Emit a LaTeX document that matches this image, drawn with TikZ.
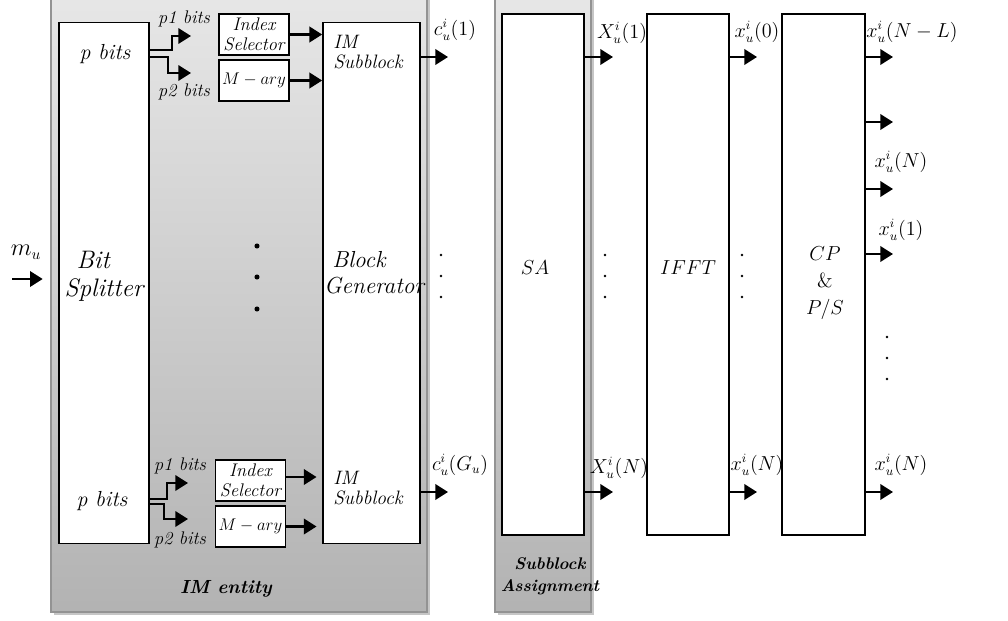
\documentclass[tikz,border=0pt]{standalone}
\usepackage{amsmath}
\usetikzlibrary{arrows.meta, positioning}

\begin{document}
\begin{tikzpicture}[x=0.025cm, y=-0.025cm,
    bigbox/.style = {rectangle, draw=black, fill=white, line width=1.2pt, minimum width=2.05cm, minimum height=13.025cm, inner sep=0pt},
    smallbox/.style = {rectangle, draw=black, fill=white, line width=0.9pt, minimum width=1.75cm, minimum height=1.025cm, inner sep=0pt, align=center, font=\fontsize{13}{14.5}\selectfont\itshape},
    entity/.style = {draw=gray!85, line width=1pt, top color=gray!18, bottom color=gray!60},
    arr/.style = {line width=1.5pt, -{Triangle[length=9pt, width=11pt]}},
    fork/.style = {line width=1.4pt, -{Triangle[length=9pt, width=11pt]}},
    bigtxt/.style = {font=\fontsize{18}{20}\selectfont\itshape, align=left, inner sep=0pt},
    midtxt/.style = {font=\fontsize{15.5}{17}\selectfont\itshape, align=left, inner sep=0pt},
    smalltxt/.style = {font=\fontsize{13}{15}\selectfont\itshape, inner sep=0pt},
    lbl/.style = {font=\fontsize{13.5}{15}\selectfont, inner sep=0pt},
    title/.style = {font=\fontsize{12}{15.5}\selectfont\bfseries\itshape, align=center, inner sep=0pt}
]
\clip (0,0) rectangle (1008,620);

% Grey entities
\fill[gray!45] (54,-20) rectangle (430,615);
\path[entity] (51,-20) rectangle (427,612);
\fill[gray!45] (498,-20) rectangle (594,615);
\path[entity] (495,-20) rectangle (591,612);

% Blocks
\node (split) [bigbox, minimum width=2.25cm] at (104,283) {};
\node (gen) [bigbox, minimum width=2.425cm] at (371.5,283) {};
\node (selA) [smallbox] at (254,34.5) {Index\\Selector};
\node (maryA) [smallbox, font=\fontsize{12.5}{16}\selectfont] at (254,80.5) {$M-ary$};
\node (selB) [smallbox] at (250.5,480.5) {Index\\Selector};
\node (maryB) [smallbox, font=\fontsize{12.5}{16}\selectfont] at (250.5,526.5) {$M-ary$};
\node (sa) [bigbox] at (543,274.5) {};
\node (ifft) [bigbox] at (688,274.5) {};
\node (cpps) [bigbox, minimum width=2.075cm] at (823.5,274.5) {};

% Block texts
\node (bittxt) [bigtxt] at (104,276) {\hspace{8.5pt}Bit\\Splitter};
\node (gentxt) [bigtxt, font=\fontsize{16.5}{18.4}\selectfont\itshape] at (374,273) {\hspace{6pt}Block\\Generator};
\node (satxt) [bigtxt, font=\fontsize{15}{19}\selectfont] at (535,268) {$SA$};
\node (iffttxt) [bigtxt, font=\fontsize{14}{19}\selectfont] at (688,268) {$IFFT$};
\node (cptxt) [bigtxt, font=\fontsize{14.5}{19}\selectfont, align=center] at (825,283) {$CP$\\\&\\$P/S$};
\node (pA) [midtxt] at (105,54) {p bits};
\node (pB) [midtxt] at (102,501) {p bits};
\node (imA) [midtxt, anchor=west, font=\fontsize{13.8}{14}\selectfont\itshape] at (333,52) {IM\\Subblock};
\node (imB) [midtxt, anchor=west, font=\fontsize{13.8}{14}\selectfont\itshape] at (333,488) {IM\\Subblock};
\node (p1A) [smalltxt] at (184,19) {p1 bits};
\node (p2A) [smalltxt] at (184,92) {p2 bits};
\node (p1B) [smalltxt] at (180,466) {p1 bits};
\node (p2B) [smalltxt] at (180,540) {p2 bits};
\node (enttxt) [title, font=\fontsize{13.5}{15}\selectfont\bfseries\itshape] at (226,589) {IM entity};
\node (asgtxt) [title] at (550,576) {Subblock\\Assignment};

% Input
\coordinate (in) at (12,279);
\node (mu) [lbl, font=\fontsize{16}{18}\selectfont] at (26,252) {$m_u$};
\draw[arr, shorten >=11pt] (in) -- (in -| split.west);

% Splitting into p1 / p2 bits
\coordinate (f1A) at (191,36);
\coordinate (f2A) at (191,73);
\coordinate (f1B) at (188,483);
\coordinate (f2B) at (188,519);
\draw[fork] (split.east |- 0,50) -- (172,50) |- (f1A);
\draw[fork] (split.east |- 0,57) -- (168,57) |- (f2A);
\draw[fork] (split.east |- 0,499) -- (167,499) |- (f1B);
\draw[fork] (split.east |- 0,504) -- (164,504) |- (f2B);

% Into the block generator
\draw[arr] (selA.east) -- (selA.east -| gen.west);
\draw[arr] (maryA.east) -- (maryA.east -| gen.west);
\draw[arr, shorten >=4pt] (selB.east |- 0,477) -- (gen.west |- 0,477);
\draw[arr, shorten >=4pt] (maryB.east) -- (maryB.east -| gen.west);

% Outputs
\coordinate (g1) at (448,57);
\coordinate (g2) at (448,492);
\coordinate (s1) at (613,57);
\coordinate (s2) at (613,492);
\coordinate (i1) at (757,57);
\coordinate (i2) at (757,492);
\coordinate (c1) at (893,57);
\coordinate (c2) at (893,122);
\coordinate (c3) at (893,189);
\coordinate (c4) at (893,254);
\coordinate (c5) at (893,492);
\draw[arr] (gen.east |- g1) -- (g1);
\draw[arr] (gen.east |- g2) -- (g2);
\draw[arr] (sa.east |- s1) -- (s1);
\draw[arr] (sa.east |- s2) -- (s2);
\draw[arr] (ifft.east |- i1) -- (i1);
\draw[arr] (ifft.east |- i2) -- (i2);
\foreach \c in {c1,c2,c3,c4,c5}
    \draw[arr] (cpps.east |- \c) -- (\c);

% Output labels
\node (lg1) [lbl] at (455,30) {$c_u^i(1)$};
\node (lg2) [lbl] at (460,465) {$c_u^i(G_u)$};
\node (ls1) [lbl] at (622,33) {$X_u^i(1)$};
\node (ls2) [lbl] at (619,468) {$X_u^i(N)$};
\node (li1) [lbl] at (757,32) {$x_u^i(0)$};
\node (li2) [lbl] at (757,465) {$x_u^i(N)$};
\node (lc1) [lbl] at (912,32) {$x_u^i(N-L)$};
\node (lc3) [lbl] at (901,162) {$x_u^i(N)$};
\node (lc4) [lbl] at (901,230) {$x_u^i(1)$};
\node (lc5) [lbl] at (901,465) {$x_u^i(N)$};

% Dots
\foreach \y in {246,277,309}
    \fill (257,\y) circle (1.8pt);
\foreach \x in {441,605,742}
    \foreach \y in {255,276,297}
        \fill (\x,\y) circle (1pt);
\foreach \y in {337,358,379}
    \fill (887,\y) circle (1pt);

\end{tikzpicture}
\end{document}
